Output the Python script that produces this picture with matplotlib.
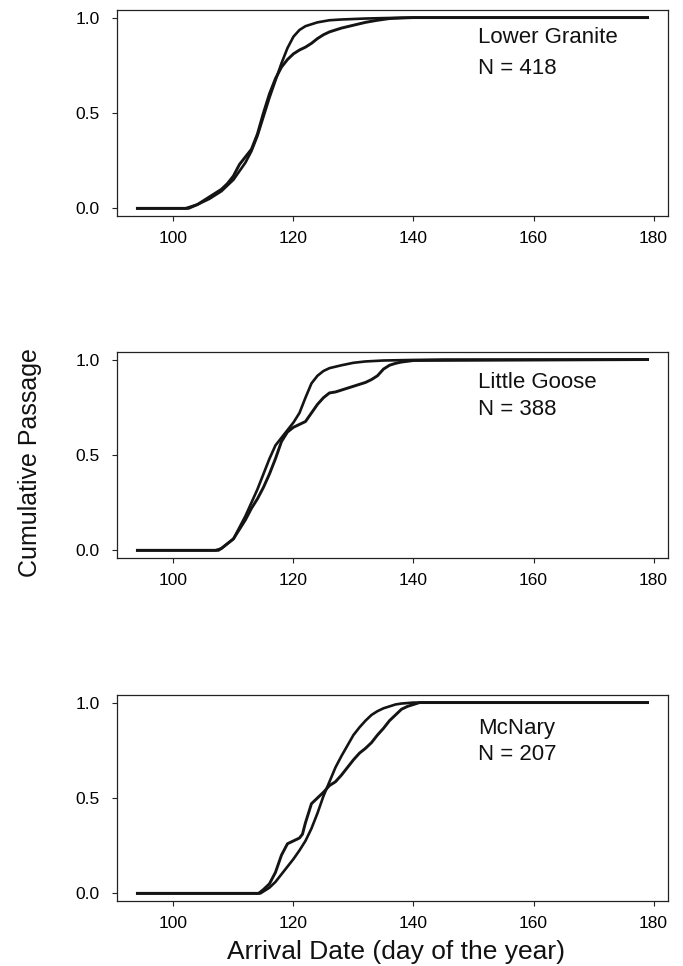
import matplotlib
matplotlib.use("Agg")
import matplotlib.pyplot as plt

plt.rcParams['font.family'] = ['Liberation Sans', 'DejaVu Sans']

# site labels
sites = ["Lower Granite", "Little Goose", "McNary"]
counts = [418, 388, 207]

# Lower Granite: fitted curve and observed passage
lg_fit_day = [94, 102, 104, 106, 108, 110, 112, 113, 114, 115, 116, 117, 118, 119, 120,
              121, 122, 123, 124, 126, 128, 132, 136, 140, 179]
lg_fit_val = [0, 0, 0.02, 0.05, 0.09, 0.15, 0.24, 0.30, 0.38, 0.48, 0.58, 0.67, 0.76, 0.84, 0.90,
              0.935, 0.955, 0.965, 0.975, 0.986, 0.99, 0.995, 0.998, 1.0, 1.0]
lg_obs_day = [94, 102.5, 104, 106, 108, 109, 110, 111, 112, 113, 114, 115, 116, 117, 118, 119,
              120, 121, 122, 123, 124, 125, 126, 127, 128, 130, 132, 134, 136, 138, 140, 179]
lg_obs_val = [0, 0, 0.02, 0.06, 0.10, 0.13, 0.17, 0.23, 0.27, 0.31, 0.39, 0.50, 0.60, 0.68, 0.74, 0.78,
              0.81, 0.83, 0.845, 0.865, 0.89, 0.91, 0.925, 0.935, 0.945, 0.96, 0.975, 0.986, 0.995,
              0.998, 1.0, 1.0]

# Little Goose
lgo_fit_day = [94, 107, 108, 110, 111, 112, 113, 114, 115, 116, 117, 118, 119, 120, 121, 122,
               123, 124, 125, 126, 128, 130, 132, 135, 140, 145, 179]
lgo_fit_val = [0, 0, 0.01, 0.06, 0.12, 0.18, 0.25, 0.32, 0.40, 0.48, 0.55, 0.59, 0.63, 0.67, 0.72, 0.80,
               0.875, 0.915, 0.94, 0.955, 0.97, 0.983, 0.99, 0.995, 0.998, 1.0, 1.0]
lgo_obs_day = [94, 107.5, 108, 110, 111, 112, 113, 114, 115, 116, 117, 118, 119, 120, 121, 122,
               123, 124, 125, 126, 127, 128, 129, 130, 131, 132, 133, 134, 135, 136, 137, 138, 140, 179]
lgo_obs_val = [0, 0, 0.01, 0.06, 0.11, 0.16, 0.22, 0.27, 0.33, 0.40, 0.48, 0.57, 0.62, 0.645, 0.66, 0.675,
               0.72, 0.765, 0.80, 0.825, 0.83, 0.84, 0.85, 0.86, 0.87, 0.88, 0.895, 0.915, 0.95, 0.97,
               0.98, 0.987, 0.995, 1.0]

# McNary
mcn_fit_day = [94, 114.5, 116, 117, 118, 119, 120, 121, 122, 123, 124, 125, 126, 127, 128, 129,
               130, 131, 132, 133, 134, 135, 136, 137, 138, 140, 179]
mcn_fit_val = [0, 0, 0.03, 0.06, 0.10, 0.14, 0.18, 0.225, 0.275, 0.34, 0.42, 0.51, 0.585, 0.66, 0.72,
               0.775, 0.83, 0.87, 0.905, 0.935, 0.955, 0.97, 0.98, 0.99, 0.995, 1.0, 1.0]
mcn_obs_day = [94, 114.2, 115, 116, 117, 118, 119, 120, 121, 121.5, 122, 123, 124, 125, 126, 127,
               128, 129, 130, 131, 132, 133, 134, 135, 136, 137, 138, 139, 140, 141, 179]
mcn_obs_val = [0, 0, 0.02, 0.05, 0.11, 0.20, 0.26, 0.275, 0.29, 0.31, 0.37, 0.47, 0.50, 0.53, 0.565,
               0.585, 0.62, 0.66, 0.70, 0.735, 0.76, 0.79, 0.83, 0.865, 0.905, 0.935, 0.965, 0.98,
               0.99, 1.0, 1.0]

x_ticks = [100, 120, 140, 160, 180]
y_ticks = [0.0, 0.5, 1.0]

panels = [
    (lg_fit_day, lg_fit_val, lg_obs_day, lg_obs_val),
    (lgo_fit_day, lgo_fit_val, lgo_obs_day, lgo_obs_val),
    (mcn_fit_day, mcn_fit_val, mcn_obs_day, mcn_obs_val),
]

fig = plt.figure(figsize=(6.83, 9.66), dpi=100)

# axes boxes, figure fractions
left, width, height = 0.1713, 0.8067, 0.2133
bottoms = [0.7764, 0.4224, 0.0673]
label_y = [0.95, 0.935, 0.92]
label_gap = [1.6, 1.4, 1.3]

for i, (fd, fv, od, ov) in enumerate(panels):
    ax = fig.add_axes([left, bottoms[i], width, height])
    ax.plot(fd, fv, color='#141414', lw=1.9)
    ax.plot(od, ov, color='#141414', lw=2.1)
    ax.set_xlim(90.6, 182.4)
    ax.set_ylim(-0.04, 1.04)
    ax.set_xticks(x_ticks)
    ax.set_yticks(y_ticks)
    ax.set_yticklabels(["%.1f" % t for t in y_ticks])
    ax.tick_params(direction='out', length=3.5, width=0.8, labelsize=12.5, color='#222222')
    ax.tick_params(axis='x', pad=7)
    ax.tick_params(axis='y', pad=9)
    for s in ax.spines.values():
        s.set_linewidth(0.9)
        s.set_color('#222222')
    ax.text(150.7, label_y[i], "%s\nN = %d" % (sites[i], counts[i]),
            ha='left', va='top', fontsize=16, linespacing=label_gap[i], color='#111111')

fig.text(0.044, 0.521, "Cumulative Passage", rotation=90, ha='center', va='center',
         fontsize=18, color='#111111')
fig.text(0.58, 0.0072, "Arrival Date (day of the year)", ha='center', va='baseline',
         fontsize=19, color='#111111')

fig.savefig("out.png", dpi=100)
